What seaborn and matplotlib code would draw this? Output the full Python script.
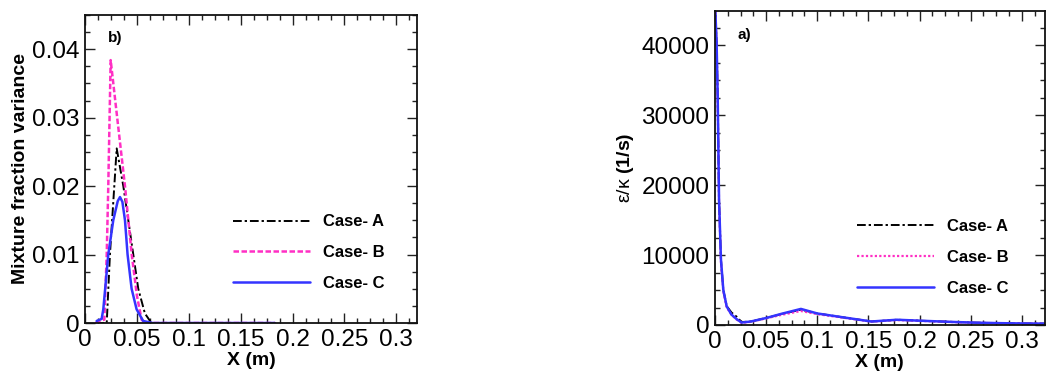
import numpy as np
import pandas as pd
import matplotlib
matplotlib.use("Agg")
import matplotlib.pyplot as plt
from matplotlib.ticker import MultipleLocator, FuncFormatter
import seaborn as sns

# ---- panel b): mixture fraction variance along the axis ----
var_x_a = [0.010, 0.0209, 0.024, 0.0282, 0.0305, 0.0369, 0.0417, 0.0465, 0.0513, 0.0577, 0.064, 0.183]
var_a = [0.0, 0.0, 0.010, 0.020, 0.0255, 0.020, 0.015, 0.010, 0.005, 0.0014, 0.0, 0.0]

var_x_b = [0.010, 0.0186, 0.0209, 0.0224, 0.0247, 0.030, 0.0385, 0.045, 0.050, 0.0545, 0.058, 0.183]
var_b = [0.0, 0.0005, 0.010, 0.020, 0.0384, 0.0313, 0.020, 0.010, 0.004, 0.0005, 0.0, 0.0]

var_x_c = [0.0112, 0.016, 0.0176, 0.0224, 0.0272, 0.0315, 0.0337, 0.036, 0.0385, 0.041, 0.0449,
           0.0497, 0.056, 0.065, 0.183]
var_c = [0.0003, 0.0006, 0.002, 0.010, 0.015, 0.0178, 0.0184, 0.0177, 0.015, 0.010, 0.005,
         0.002, 0.0003, 0.0, 0.0]

# ---- panel a): eps/k along the axis ----
ek_x = [0.0, 0.0015, 0.0026, 0.0039, 0.0058, 0.0081, 0.0114, 0.016, 0.021, 0.026, 0.035,
        0.05, 0.065, 0.084, 0.10, 0.125, 0.153, 0.178, 0.203, 0.23, 0.253, 0.28, 0.30, 0.322]
ek_a = [46000, 40500, 32600, 17900, 9300, 5000, 2700, 1800, 1200, 420, 500,
        1000, 1550, 2200, 1650, 1100, 500, 750, 600, 450, 340, 260, 220, 200]
ek_b = [46000, 40000, 32000, 17500, 9000, 4800, 2500, 1500, 800, 300, 450,
        950, 1450, 2000, 1550, 1050, 480, 700, 570, 430, 320, 250, 210, 190]
ek_c = [46000, 40500, 32600, 17900, 9300, 5000, 2650, 1500, 850, 350, 500,
        1000, 1600, 2300, 1650, 1100, 500, 750, 600, 450, 340, 260, 220, 200]

case_labels = ["Case- A", "Case- B", "Case- C"]
x_ticks = [0, 0.05, 0.1, 0.15, 0.2, 0.25, 0.3]

sns.set_theme(style="ticks")
plt.rcParams["font.family"] = ["Liberation Sans", "DejaVu Sans"]
plt.rcParams["mathtext.fontset"] = "custom"
plt.rcParams["mathtext.rm"] = "Liberation Sans"
plt.rcParams["mathtext.bf"] = "Liberation Sans:bold"
plt.rcParams["mathtext.it"] = "Liberation Sans:italic"
plt.rcParams["text.color"] = "black"
plt.rcParams["axes.labelcolor"] = "black"
plt.rcParams["xtick.labelcolor"] = "black"
plt.rcParams["ytick.labelcolor"] = "black"

BLACK = "#000000"
PINK = "#ff2fc4"
BLUE = "#3434ff"

fig = plt.figure(figsize=(10.46, 3.73), dpi=100)
ax_b = fig.add_axes([0.0813, 0.134, 0.3174, 0.826])
ax_a = fig.add_axes([0.6836, 0.1287, 0.3150, 0.8418])

dashdot = (0, (4.5, 1.5, 1.2, 1.5))

def style_axes(ax, xmax, ymax, ymajor, yminor, yfmt):
    ax.set_xlim(0, xmax)
    ax.set_ylim(0, ymax)
    ax.set_xticks(x_ticks)
    ax.xaxis.set_minor_locator(MultipleLocator(0.0125))
    ax.yaxis.set_major_locator(MultipleLocator(ymajor))
    ax.yaxis.set_minor_locator(MultipleLocator(yminor))
    ax.xaxis.set_major_formatter(FuncFormatter(lambda v, p: "%g" % round(v, 4)))
    ax.yaxis.set_major_formatter(FuncFormatter(yfmt))
    ax.tick_params(which="both", direction="in", top=True, right=True,
                   labelsize=17.5, width=1.0, color="#222222", labelcolor="black")
    ax.tick_params(which="major", length=7, pad=4)
    ax.tick_params(which="minor", length=3.5)
    for s in ax.spines.values():
        s.set_linewidth(1.3)
        s.set_color("#111111")
        s.set_visible(True)
    ax.set_xlabel("X (m)", fontsize=14, fontweight="bold", labelpad=1, color="black")

# panel b)
sns.lineplot(x=var_x_a, y=var_a, ax=ax_b, color=BLACK, lw=1.4, linestyle=dashdot,
             label=case_labels[0], sort=False)
sns.lineplot(x=var_x_b, y=var_b, ax=ax_b, color=PINK, lw=1.8, linestyle=(0, (2.2, 1.0)),
             label=case_labels[1], sort=False)
sns.lineplot(x=var_x_c, y=var_c, ax=ax_b, color=BLUE, lw=1.8, linestyle="-",
             label=case_labels[2], sort=False)
style_axes(ax_b, 0.32, 0.045, 0.01, 0.0025, lambda v, p: "%g" % round(v, 4))
ax_b.set_ylabel("Mixture fraction variance", fontsize=14, fontweight="bold", labelpad=2,
                color="black")
ax_b.text(0.069, 0.925, "b)", transform=ax_b.transAxes, fontsize=11, fontweight="bold",
          va="center", ha="left", color="black")
leg_b = ax_b.legend(loc="lower left", bbox_to_anchor=(0.40, 0.055), frameon=False,
                    prop={"weight": "bold", "size": 12}, handlelength=4.6, handletextpad=0.8,
                    labelspacing=0.95)
for t in leg_b.get_texts():
    t.set_color("black")

# panel a)
sns.lineplot(x=ek_x, y=ek_a, ax=ax_a, color=BLACK, lw=1.4, linestyle=dashdot,
             label=case_labels[0], sort=False)
sns.lineplot(x=ek_x, y=ek_b, ax=ax_a, color=PINK, lw=1.6, linestyle=(0, (1.0, 1.0)),
             label=case_labels[1], sort=False)
sns.lineplot(x=ek_x, y=ek_c, ax=ax_a, color=BLUE, lw=1.8, linestyle="-",
             label=case_labels[2], sort=False)
style_axes(ax_a, 0.3223, 44900, 10000, 2500, lambda v, p: "%d" % round(v))
ax_a.set_ylabel(r"ε/κ $\mathbf{(1/s)}$", fontsize=14, labelpad=4, color="black")
ax_a.text(0.069, 0.924, "a)", transform=ax_a.transAxes, fontsize=11, fontweight="bold",
          va="center", ha="left", color="black")
leg_a = ax_a.legend(loc="lower left", bbox_to_anchor=(0.385, 0.045), frameon=False,
                    prop={"weight": "bold", "size": 12}, handlelength=4.6, handletextpad=0.8,
                    labelspacing=0.95)
for t in leg_a.get_texts():
    t.set_color("black")

fig.savefig("out.png", dpi=100)
